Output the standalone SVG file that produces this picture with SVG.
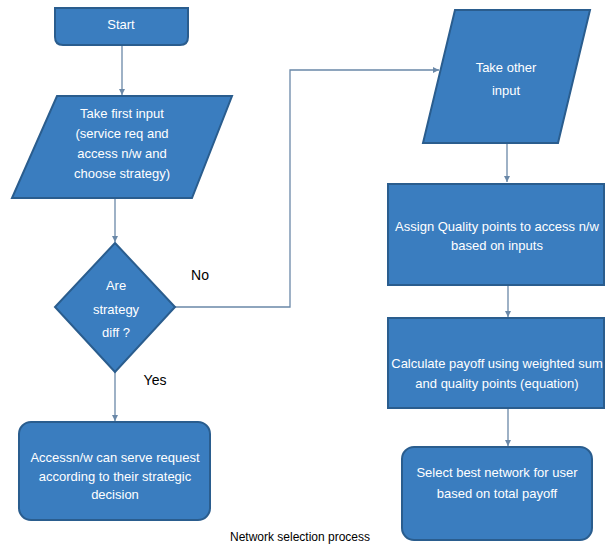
<svg xmlns="http://www.w3.org/2000/svg" width="607" height="546" viewBox="0 0 607 546">
<defs>
<style>
.box{fill:#3a7dbf;stroke:#2a5d8e;stroke-width:2}
.t{font-family:"Liberation Sans",Arial,sans-serif;font-size:13px;fill:#ffffff;text-anchor:middle}
.lbl{font-family:"Liberation Sans",Arial,sans-serif;font-size:14px;fill:#000000;text-anchor:middle}
.cap{font-family:"Liberation Sans",Arial,sans-serif;font-size:12px;fill:#000000;text-anchor:middle}
.c{fill:none;stroke:#6a88a8;stroke-width:1.3}
</style>
<marker id="ah" viewBox="0 0 10 10" refX="10" refY="5" markerWidth="6" markerHeight="6" orient="auto" markerUnits="userSpaceOnUse">
<path d="M0,0 L10,5 L0,10 z" fill="#6a88a8"/>
</marker>
</defs>
<rect width="607" height="546" fill="#ffffff"/>
<g id="connectors">
<line class="c" x1="122" y1="45" x2="122" y2="95" marker-end="url(#ah)"/>
<line class="c" x1="115" y1="198" x2="115" y2="242" marker-end="url(#ah)"/>
<polyline class="c" points="175,307 290,307 290,70 439,70" marker-end="url(#ah)"/>
<line class="c" x1="115" y1="372" x2="115" y2="421" marker-end="url(#ah)"/>
<line class="c" x1="507" y1="143" x2="507" y2="182" marker-end="url(#ah)"/>
<line class="c" x1="508" y1="285" x2="508" y2="317" marker-end="url(#ah)"/>
<line class="c" x1="508" y1="408" x2="508" y2="446" marker-end="url(#ah)"/>
</g>
<g id="start">
<path class="box" d="M55,8 L188,8 L188,37 Q188,45 180,45 L63,45 Q55,45 55,37 Z"/>
<text class="t" x="121" y="29">Start</text>
</g>
<g id="first-input">
<polygon class="box" points="57,96 232,96 192,198 12,198"/>
<text class="t" x="122" y="118">Take first input</text>
<text class="t" x="122" y="138">(service req and</text>
<text class="t" x="122" y="158">access n/w and</text>
<text class="t" x="122" y="178">choose  strategy)</text>
</g>
<g id="decision">
<polygon class="box" points="115,243 175,307 115,372 55,307"/>
<text class="t" x="116" y="290">Are</text>
<text class="t" x="116" y="314">strategy</text>
<text class="t" x="116" y="337">diff ?</text>
</g>
<g id="label-no"><text class="lbl" x="200" y="280">No</text></g>
<g id="label-yes"><text class="lbl" x="155" y="385">Yes</text></g>
<g id="access-serve">
<rect class="box" x="19" y="422" width="191" height="98" rx="12" ry="12"/>
<text class="t" x="115" y="462">Accessn/w can serve request</text>
<text class="t" x="115" y="481">according to their strategic</text>
<text class="t" x="115" y="499">decision</text>
</g>
<g id="other-input">
<polygon class="box" points="455,10 590,10 558,143 423,143"/>
<text class="t" x="506" y="72">Take other</text>
<text class="t" x="506" y="95">input</text>
</g>
<g id="assign">
<rect class="box" x="388" y="184" width="216" height="101"/>
<text class="t" x="497" y="231">Assign Quality  points to access n/w</text>
<text class="t" x="497" y="250">based on inputs</text>
</g>
<g id="calculate">
<rect class="box" x="388" y="318" width="216" height="90"/>
<text class="t" x="497" y="368">Calculate payoff using weighted sum</text>
<text class="t" x="497" y="388">and quality points  (equation)</text>
</g>
<g id="select">
<rect class="box" x="402" y="447" width="190" height="93" rx="12" ry="12"/>
<text class="t" x="497" y="477">Select best network  for user</text>
<text class="t" x="497" y="498">based on total  payoff</text>
</g>
<g id="caption"><text class="cap" x="300" y="541">Network selection process</text></g>
</svg>
